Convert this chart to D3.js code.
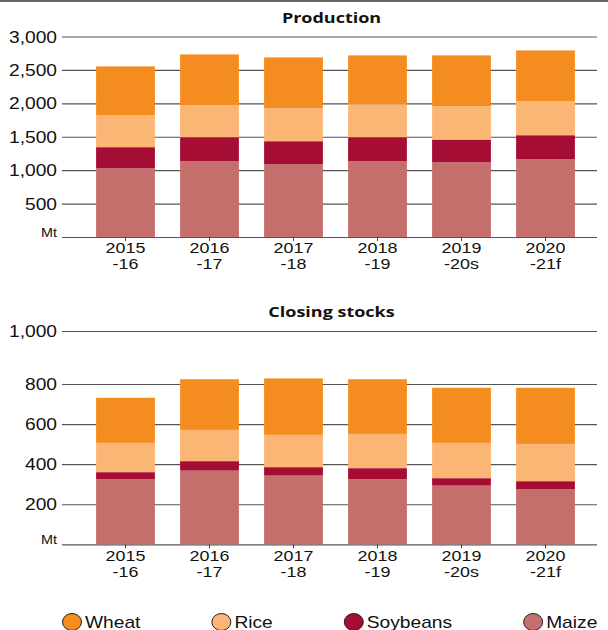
<!DOCTYPE html>
<html>
<head>
<meta charset="utf-8">
<title>Production and closing stocks</title>
<script src="https://cdn.jsdelivr.net/npm/d3@7"></script>
<style>
  body { margin: 0; background: #fff; }
  svg { display: block; }
</style>
</head>
<body>
<svg id="chart" width="608" height="630"></svg>
<script>
// categories
const years = ["2015", "2016", "2017", "2018", "2019", "2020"];
const yearEnds = ["-16", "-17", "-18", "-19", "-20s", "-21f"];
const crops = ["Maize", "Soybeans", "Rice", "Wheat"];      // stacking order, bottom first
const legendOrder = ["Wheat", "Rice", "Soybeans", "Maize"];

// production, Mt
const prodMaize    = [1030, 1135, 1090, 1135, 1120, 1165];
const prodSoybeans = [314, 358, 343, 358, 338, 358];
const prodRice     = [477, 478, 493, 493, 498, 507];
const prodWheat    = [732, 761, 761, 731, 761, 762];

// closing stocks, Mt
const stockMaize    = [326, 368, 343, 325, 293, 276];
const stockSoybeans = [34, 47, 42, 55, 37, 39];
const stockRice     = [146, 156, 161, 171, 176, 186];
const stockWheat    = [225, 247, 275, 267, 275, 280];

const prodTicks = [0, 500, 1000, 1500, 2000, 2500, 3000];
const stockTicks = [0, 200, 400, 600, 800, 1000];

const colors = {Wheat: "#f58c20", Rice: "#fbb574", Soybeans: "#a50d35", Maize: "#c46f6b"};

const svg = d3.select("#chart");
const left = 62, right = 597;
const FONT = "'Liberation Sans', Arial, sans-serif";
const SX = 1.2; // the source text is drawn a little wide

svg.append("line")
  .attr("x1", 0).attr("x2", 608).attr("y1", 1).attr("y2", 1)
  .attr("stroke", "#333").attr("stroke-width", 1.5);

const x = d3.scaleBand().domain(years).range([83.5, 587.5]).paddingInner(0.3).paddingOuter(0.15);

function rowsOf(m, s, r, w) {
  return years.map((y, i) => ({year: y, Maize: m[i], Soybeans: s[i], Rice: r[i], Wheat: w[i]}));
}

function panel(title, titleY, rows, y, ticks) {
  const g = svg.append("g");

  // title
  g.append("text")
    .attr("transform", `translate(${(left + right) / 2 + 2},${titleY}) scale(${SX},1)`)
    .attr("text-anchor", "middle")
    .attr("font-family", "'Open Sans', sans-serif")
    .attr("font-weight", 700)
    .attr("font-size", 15)
    .attr("fill", "#111")
    .text(title);

  // y axis + gridlines
  const yAxis = g.append("g")
    .attr("transform", `translate(${left},0)`)
    .call(d3.axisLeft(y)
      .tickValues(ticks)
      .tickSize(-(right - left))
      .tickPadding(5)
      .tickFormat(d => d === 0 ? "Mt" : d3.format(",")(d)));
  yAxis.select(".domain").remove();
  yAxis.selectAll(".tick line").attr("stroke", "#555").attr("stroke-width", 1.2);
  yAxis.selectAll(".tick text")
    .attr("font-family", FONT)
    .attr("font-size", d => d === 0 ? 12 : 16)
    .attr("fill", "#111")
    .attr("dy", d => d === 0 ? "-0.05em" : "0.35em")
    .attr("transform", `scale(${SX},1)`)
    .attr("x", -5 / SX);

  // bars
  const stacked = d3.stack().keys(crops)(rows);
  g.append("g")
    .selectAll("g")
    .data(stacked)
    .join("g")
      .attr("fill", d => colors[d.key])
    .selectAll("rect")
    .data(d => d)
    .join("rect")
      .attr("x", d => x(d.data.year))
      .attr("width", x.bandwidth())
      .attr("y", d => y(d[1]))
      .attr("height", d => y(d[0]) - y(d[1]));

  // x axis, two-line labels
  const xAxis = g.append("g")
    .attr("transform", `translate(0,${y(0)})`)
    .call(d3.axisBottom(x).tickSizeInner(4).tickSizeOuter(0));
  xAxis.select(".domain").remove();
  xAxis.selectAll(".tick line").attr("stroke", "#444");
  const t = xAxis.selectAll(".tick text")
    .attr("font-family", FONT)
    .attr("font-size", 14)
    .attr("fill", "#111")
    .attr("y", 0)
    .attr("dy", null)
    .attr("transform", "scale(1.28,1)")
    .text(null);
  t.append("tspan").attr("x", 0).attr("y", 16.5).text(d => d);
  t.append("tspan").attr("x", 0).attr("y", 32.5).text(d => yearEnds[years.indexOf(d)]);
}

panel("Production", 23,
  rowsOf(prodMaize, prodSoybeans, prodRice, prodWheat),
  d3.scaleLinear().domain([0, 3000]).range([237, 36.5]),
  prodTicks);

// the stocks axis in the source is squeezed above 800
panel("Closing stocks", 317,
  rowsOf(stockMaize, stockSoybeans, stockRice, stockWheat),
  d3.scaleLinear().domain([0, 800, 1000]).range([544.3, 384, 331]),
  stockTicks);

// legend, spread with equal gaps between the plot edges
const legend = svg.append("g").attr("transform", "translate(0,622)");
const items = legend.selectAll("g")
  .data(legendOrder)
  .join("g");
items.append("ellipse")
  .attr("cx", 10).attr("cy", 0).attr("rx", 9.5).attr("ry", 8.5)
  .attr("fill", d => colors[d])
  .attr("stroke", "#222").attr("stroke-width", 1);
items.append("text")
  .attr("transform", `translate(23,0) scale(${SX},1)`)
  .attr("dy", "0.36em")
  .attr("font-family", FONT)
  .attr("font-size", 16)
  .attr("fill", "#111")
  .text(d => d);

const widths = items.nodes().map(n => n.getBBox().width);
const gap = (right - left - d3.sum(widths)) / (legendOrder.length - 1);
let pos = left;
items.each(function(d, i) {
  d3.select(this).attr("transform", `translate(${pos},0)`);
  pos += widths[i] + gap;
});
</script>
</body>
</html>
